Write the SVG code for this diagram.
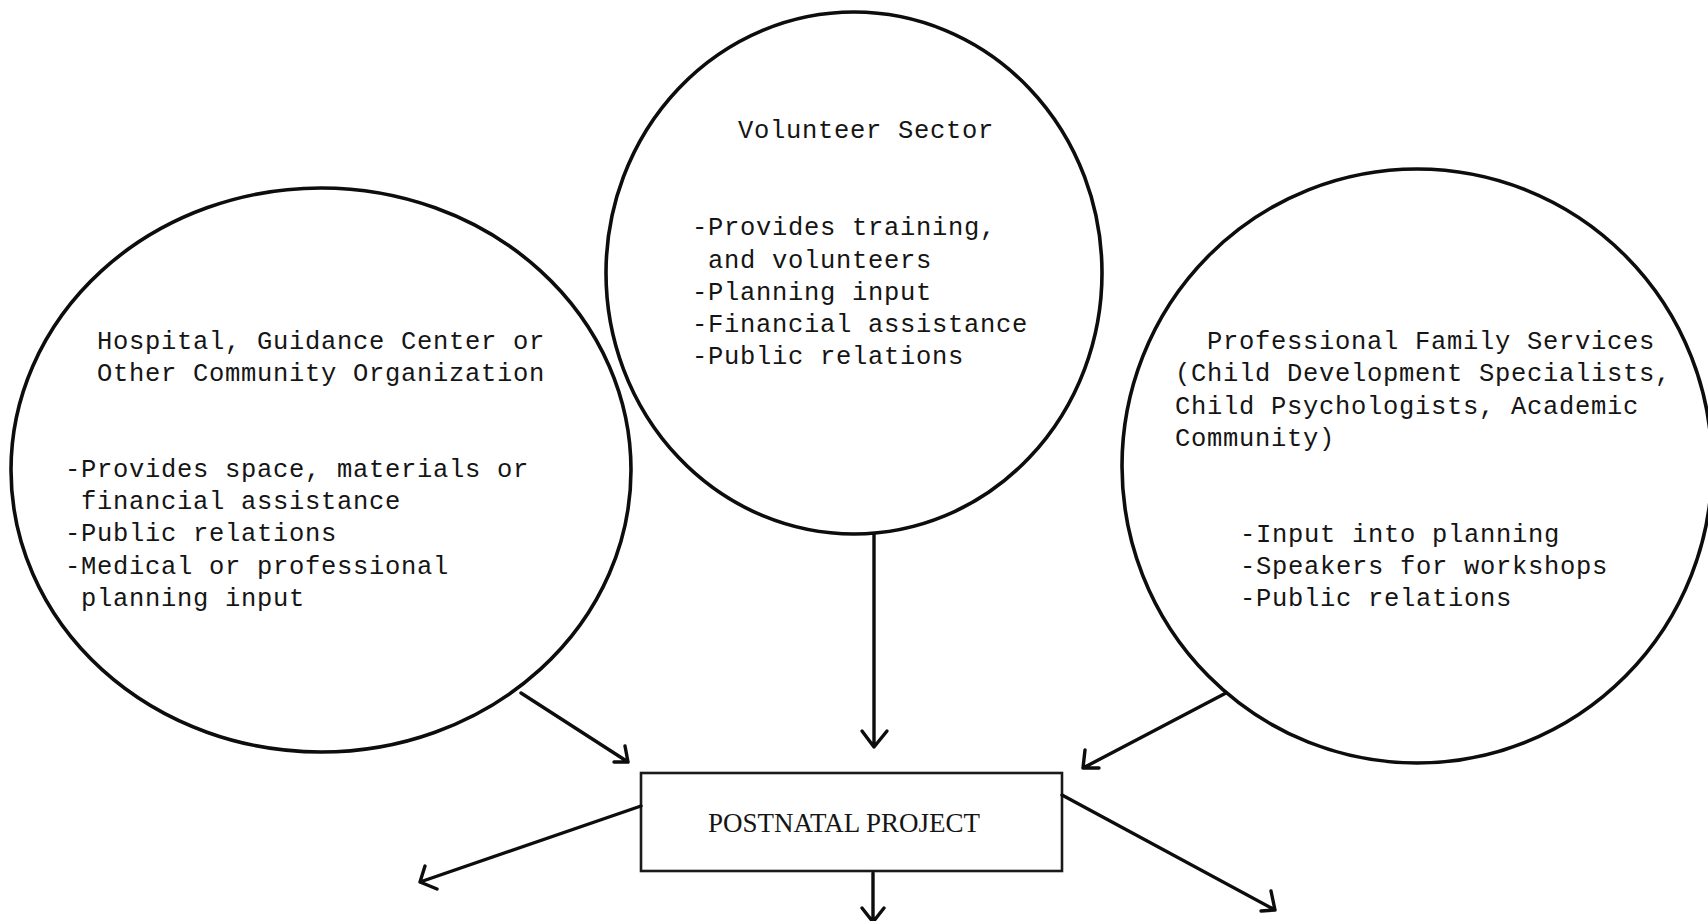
<svg xmlns="http://www.w3.org/2000/svg" width="1708" height="921" viewBox="0 0 1708 921">
  <style>
    .bubble { fill: none; stroke: #0d0d0d; stroke-width: 3.6; }
    .box { fill: none; stroke: #1a1a1a; stroke-width: 2.6; }
    .type { font-family: "Liberation Mono", "DejaVu Sans Mono", monospace; font-size: 25.5px; letter-spacing: 0.7px; fill: #151515; }
    .title { font-family: "Liberation Serif", "Times New Roman", serif; font-size: 27px; fill: #151515; }
    .link { fill: none; stroke: #0d0d0d; stroke-width: 3.4; stroke-linecap: round; stroke-linejoin: round; }
  </style>
  <rect width="1708" height="921" fill="#ffffff"/>

  <!-- Hospital / community organisation -->
  <g id="node-hospital">
    <ellipse class="bubble" cx="321" cy="470" rx="310" ry="282"/>
    <text class="type" x="97" y="349">Hospital, Guidance Center or</text>
    <text class="type" x="97" y="381">Other Community Organization</text>
    <text class="type" x="65" y="477">-Provides space, materials or</text>
    <text class="type" x="81" y="509">financial assistance</text>
    <text class="type" x="65" y="541">-Public relations</text>
    <text class="type" x="65" y="574">-Medical or professional</text>
    <text class="type" x="81" y="606">planning input</text>
  </g>

  <!-- Volunteer sector -->
  <g id="node-volunteer">
    <ellipse class="bubble" cx="854" cy="273" rx="248" ry="261"/>
    <text class="type" x="738" y="138">Volunteer Sector</text>
    <text class="type" x="692" y="235">-Provides training,</text>
    <text class="type" x="708" y="268">and volunteers</text>
    <text class="type" x="692" y="300">-Planning input</text>
    <text class="type" x="692" y="332">-Financial assistance</text>
    <text class="type" x="692" y="364">-Public relations</text>
  </g>

  <!-- Professional family services -->
  <g id="node-professional">
    <ellipse class="bubble" cx="1417" cy="466" rx="295" ry="297"/>
    <text class="type" x="1207" y="349">Professional Family Services</text>
    <text class="type" x="1175" y="381">(Child Development Specialists,</text>
    <text class="type" x="1175" y="414">Child Psychologists, Academic</text>
    <text class="type" x="1175" y="446">Community)</text>
    <text class="type" x="1240" y="542">-Input into planning</text>
    <text class="type" x="1240" y="574">-Speakers for workshops</text>
    <text class="type" x="1240" y="606">-Public relations</text>
  </g>

  <!-- Central project box -->
  <g id="node-project">
    <rect class="box" x="641" y="773" width="421" height="98"/>
    <text class="title" x="708" y="832" textLength="272" lengthAdjust="spacingAndGlyphs">POSTNATAL PROJECT</text>
  </g>

  <!-- Arrows: inputs into the project and outputs from it -->
  <g id="connectors">
    <path class="link" d="M521 693 L628 762 M625 746 L628 762 L614 762"/>
    <path class="link" d="M874 534 L874 747 M862 731 L874 747 L887 731"/>
    <path class="link" d="M1226 693 L1083 768 M1085 750 L1083 768 L1099 768"/>
    <path class="link" d="M641 806 L420 882 M425 866 L420 882 L437 889"/>
    <path class="link" d="M873 873 L873 922 M862 908 L873 922 L884 908"/>
    <path class="link" d="M1062 795 L1275 910 M1271 891 L1275 910 L1261 911"/>
  </g>
</svg>
